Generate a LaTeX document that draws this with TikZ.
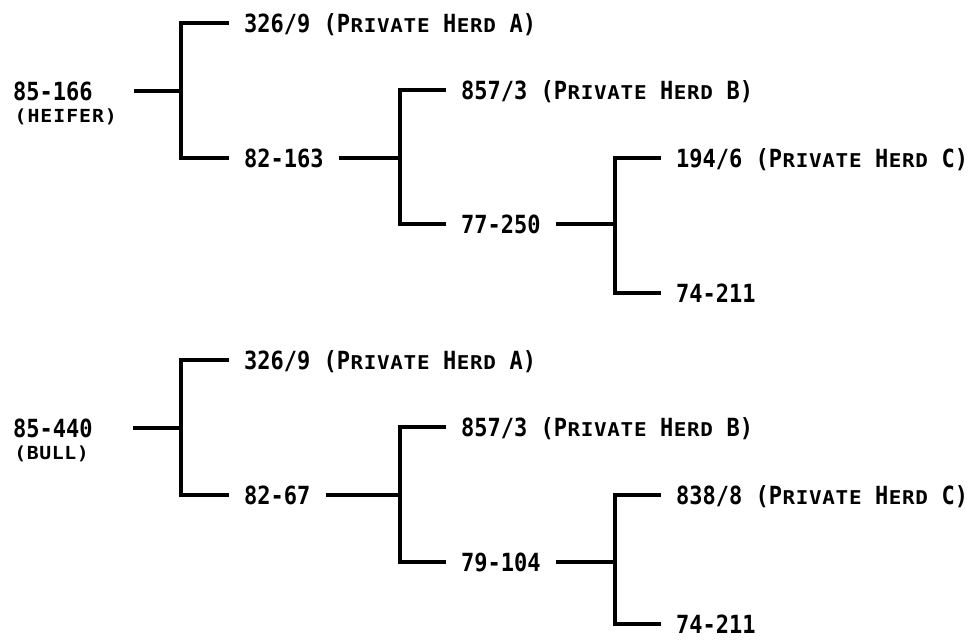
\documentclass[tikz,border=0pt]{standalone}
\usepackage{fontspec}
\newfontfamily\mf[FakeStretch=0.88]{DejaVu Sans Mono}
\newfontfamily\mfs[FakeStretch=1.1]{DejaVu Sans Mono}
\newlength\cw \setlength\cw{13.3pt}
\newcommand\scf{\mfs\bfseries\fontsize{19}{19}\selectfont}
\newcommand\subf{\mfs\bfseries\fontsize{18}{18}\selectfont}
\makeatletter
\newcommand\smc[2][\cw]{\@tfor\smc@c:=#2\do{\makebox[#1][c]{\scf\smc@c}}}
\newcommand\smb[2][\cw]{\@tfor\smc@c:=#2\do{\makebox[#1][c]{\subf\smc@c}}}
\makeatother
\begin{document}
\begin{tikzpicture}[x=1pt,y=-1pt,
  ln/.style={line width=4pt},
  lab/.style={anchor=west,inner sep=0pt,text height=18pt,text depth=0pt,font=\mf\bfseries\fontsize{25}{26}\selectfont},
  sub/.style={anchor=west,inner sep=0pt,text height=13pt,text depth=0pt,font=\subf}]
\useasboundingbox (0,0) rectangle (972,640);
% ---------- top tree ----------
\node[lab] (r1) at (13,91) {85-166};
\node[sub] (r1b) at (14,116) {\smb[12.9pt]{(HEIFER)}};
\coordinate (s1) at (134,91);
\coordinate (j1) at (181,91);
\node[lab] (a1) at (244,23) {326/9 (P\smc{RIVATE} H\smc{ERD} A)};
\node[lab] (b1) at (244,158) {82-163};
\coordinate (j2) at (400,158);
\node[lab] (c1) at (461,90) {857/3 (P\smc{RIVATE} H\smc{ERD} B)};
\node[lab] (d1) at (461,224) {77-250};
\coordinate (j3) at (615,224);
\node[lab] (e1) at (676,158) {194/6 (P\smc{RIVATE} H\smc{ERD} C)};
\node[lab] (f1) at (676,293) {74-211};
\draw[ln] (s1) -- (j1);
\draw[ln] ([xshift=-15pt]a1.west) -| (j1) |- ([xshift=-15pt]b1.west);
\draw[ln] ([xshift=15pt]b1.east) -- (j2);
\draw[ln] ([xshift=-15pt]c1.west) -| (j2) |- ([xshift=-15pt]d1.west);
\draw[ln] ([xshift=15pt]d1.east) -- (j3);
\draw[ln] ([xshift=-15pt]e1.west) -| (j3) |- ([xshift=-15pt]f1.west);
% ---------- bottom tree ----------
\node[lab] (r2) at (13,428) {85-440};
\node[sub] (r2b) at (14,453) {\smb[12.5pt]{(BULL)}};
\coordinate (s2) at (133,428);
\coordinate (k1) at (181,428);
\node[lab] (a2) at (244,360) {326/9 (P\smc{RIVATE} H\smc{ERD} A)};
\node[lab] (b2) at (244,495) {82-67};
\coordinate (k2) at (400,495);
\node[lab] (c2) at (461,427) {857/3 (P\smc{RIVATE} H\smc{ERD} B)};
\node[lab] (d2) at (461,562) {79-104};
\coordinate (k3) at (615,562);
\node[lab] (e2) at (676,495) {838/8 (P\smc{RIVATE} H\smc{ERD} C)};
\node[lab] (f2) at (676,624) {74-211};
\draw[ln] (s2) -- (k1);
\draw[ln] ([xshift=-15pt]a2.west) -| (k1) |- ([xshift=-15pt]b2.west);
\draw[ln] ([xshift=15pt]b2.east) -- (k2);
\draw[ln] ([xshift=-15pt]c2.west) -| (k2) |- ([xshift=-15pt]d2.west);
\draw[ln] ([xshift=15pt]d2.east) -- (k3);
\draw[ln] ([xshift=-15pt]e2.west) -| (k3) |- ([xshift=-15pt]f2.west);
\end{tikzpicture}
\end{document}
